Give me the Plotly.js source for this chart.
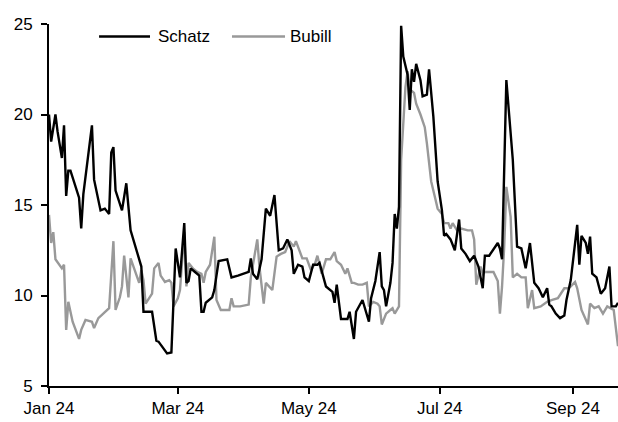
<!DOCTYPE html>
<html>
<head>
<meta charset="utf-8">
<script src="https://cdn.plot.ly/plotly-3.0.1.min.js"></script>
<style>html,body{margin:0;padding:0;background:#fff;}#chart{width:618px;height:422px;}</style>
</head>
<body>
<div id="chart"></div>
<script>
const seriesNames = ['Schatz', 'Bubill'];
const tickDates = ['2024-01-01', '2024-03-01', '2024-05-01', '2024-07-01', '2024-09-01'];
const tickLabels = ['Jan 24', 'Mar 24', 'May 24', 'Jul 24', 'Sep 24'];

const schatzDates = ['01-01','01-02','01-04','01-05','01-07','01-08','01-09','01-10','01-11','01-15','01-16','01-17','01-21','01-22','01-25','01-27','01-29','01-30','01-31',
'02-01','02-04','02-06','02-08','02-13','02-14','02-18','02-20','02-21','02-25','02-27','02-29',
'03-02','03-04','03-05','03-06','03-07','03-09','03-11','03-12','03-13','03-14','03-17','03-18','03-20','03-24','03-26','03-29',
'04-03','04-04','04-05','04-07','04-09','04-11','04-13','04-15','04-17','04-19','04-21','04-23','04-24','04-26','04-28','04-29',
'05-01','05-03','05-05','05-06','05-08','05-09','05-12','05-13','05-14','05-16','05-19','05-20','05-22','05-23','05-26','05-29','05-30',
'06-01','06-03','06-04','06-05','06-06','06-08','06-09','06-10','06-11','06-12','06-13','06-14','06-16','06-17','06-18','06-19','06-20','06-22','06-23','06-25','06-26','06-28','06-30',
'07-02','07-03','07-04','07-06','07-08','07-10','07-11','07-13','07-15','07-17','07-19','07-21','07-22','07-24','07-28','07-29','07-30',
'08-01','08-04','08-06','08-08','08-10','08-12','08-14','08-16','08-18','08-20','08-21','08-22','08-24','08-26','08-28','08-29','08-31',
'09-03','09-04','09-05','09-07','09-08','09-09','09-10','09-12','09-14','09-16','09-18','09-19','09-21','09-22'];
const schatzValues = [20.0,18.5,20.0,19.05,17.6,19.4,15.5,16.9,16.9,15.4,13.7,15.6,19.4,16.4,14.7,14.8,14.5,17.9,18.2,
15.8,14.7,16.2,13.6,11.6,9.1,9.1,7.5,7.45,6.8,6.85,12.6,
11.0,14.0,10.7,10.8,11.5,11.3,11.1,9.1,9.1,9.6,9.9,10.3,11.9,12.0,11.0,11.1,
11.3,12.05,11.2,10.9,12.0,14.8,14.4,15.55,12.5,12.6,13.1,12.5,11.2,11.7,11.6,11.0,
10.8,11.7,11.7,11.8,11.0,10.5,10.2,9.6,10.6,8.7,8.7,9.1,7.6,9.1,9.75,8.55,9.85,
10.8,12.4,10.5,10.3,9.4,10.7,11.8,14.5,13.7,14.9,24.9,23.2,22.2,20.25,22.5,21.8,22.8,21.9,21.0,21.1,22.5,19.9,16.3,
14.7,13.3,13.4,13.1,12.5,14.2,12.6,12.3,11.9,12.2,11.6,10.4,12.2,12.2,12.9,12.6,12.0,
21.9,17.5,12.7,12.6,11.5,12.9,10.7,10.4,9.9,10.4,9.5,9.4,9.0,8.75,8.9,9.75,10.85,
13.9,11.7,13.3,12.9,12.3,13.25,11.2,11.0,10.1,10.4,11.6,9.4,9.4,9.6];

const bubillDates = ['01-01','01-02','01-03','01-04','01-07','01-08','01-09','01-10','01-12','01-15','01-16','01-18','01-21','01-22','01-24','01-28','01-29','01-31',
'02-01','02-03','02-04','02-05','02-07','02-08','02-10','02-12','02-13','02-14','02-15','02-18','02-19','02-21','02-22','02-24','02-26','02-27','02-28',
'03-01','03-02','03-04','03-05','03-06','03-08','03-10','03-12','03-13','03-14','03-16','03-18','03-19','03-21','03-25','03-26','03-27','03-30',
'04-03','04-04','04-07','04-08','04-10','04-11','04-14','04-16','04-18','04-20','04-22','04-24','04-25','04-28','04-30',
'05-02','05-04','05-05','05-07','05-09','05-11','05-13','05-14','05-16','05-18','05-19','05-21','05-22','05-24','05-26','05-28','05-29','05-31',
'06-02','06-03','06-04','06-06','06-08','06-09','06-10','06-12','06-13','06-15','06-16','06-17','06-19','06-20','06-22','06-24','06-25','06-27','06-29','06-30',
'07-02','07-03','07-05','07-06','07-07','07-09','07-11','07-14','07-16','07-17','07-18','07-20','07-21','07-22','07-26','07-28','07-29','07-30','07-31',
'08-01','08-03','08-04','08-06','08-08','08-10','08-11','08-13','08-14','08-17','08-20','08-22','08-25','08-28','08-30','08-31',
'09-02','09-03','09-05','09-08','09-09','09-11','09-13','09-15','09-17','09-20','09-21','09-22'];
const bubillValues = [14.45,12.9,13.5,12.0,11.5,11.7,8.1,9.65,8.55,7.6,8.1,8.65,8.55,8.2,8.75,9.2,9.3,13.0,
9.2,9.9,10.5,12.2,9.9,12.05,11.4,10.7,11.4,10.85,9.55,10.1,11.5,11.8,11.1,10.75,10.85,10.7,9.4,
9.85,10.3,13.5,10.5,11.8,11.5,11.3,11.2,10.7,11.3,11.7,13.25,9.75,9.2,9.2,9.85,9.4,9.4,
9.5,11.0,13.1,11.6,9.55,10.7,10.3,12.15,12.3,12.4,13.0,12.7,13.0,12.05,12.05,
11.4,11.8,12.2,11.2,12.0,12.0,12.4,11.9,11.7,11.2,11.5,10.7,10.7,10.6,10.6,10.7,9.4,9.65,
9.55,9.4,8.4,9.0,9.2,9.3,9.0,9.4,17.5,21.5,22.4,21.4,21.2,20.6,20.0,19.3,18.4,16.3,15.3,14.8,
14.5,14.0,14.0,13.7,14.0,13.6,13.7,13.6,13.6,13.1,10.6,11.6,11.2,11.3,11.3,10.8,9.0,10.5,12.7,
16.0,14.35,11.0,11.2,11.0,11.0,9.3,10.3,9.3,9.4,9.65,9.75,9.85,10.4,10.4,10.5,
10.75,10.4,9.2,8.4,9.55,9.3,9.4,9.0,9.4,9.2,8.1,7.2];

const year = '2024-';
const colors = {Schatz: '#000000', Bubill: '#999999'};
const font = '"Liberation Sans", Arial, sans-serif';

const traces = [
  {x: bubillDates.map(d => year + d), y: bubillValues, name: seriesNames[1], type: 'scatter', mode: 'lines',
   line: {color: colors.Bubill, width: 2.4}},
  {x: schatzDates.map(d => year + d), y: schatzValues, name: seriesNames[0], type: 'scatter', mode: 'lines',
   line: {color: colors.Schatz, width: 2.4}}
];

const layout = {
  width: 618, height: 422,
  margin: {l: 49, r: 0, t: 24, b: 36},
  paper_bgcolor: '#fff', plot_bgcolor: '#fff',
  showlegend: false,
  font: {family: font, size: 17, color: '#000'},
  xaxis: {
    type: 'date', range: ['2024-01-01', '2024-09-22'],
    tickvals: tickDates, ticktext: tickLabels,
    showgrid: false, zeroline: false, showline: true, linecolor: '#000', linewidth: 2,
    ticks: 'outside', ticklen: 6, tickwidth: 2, tickcolor: '#000',
    tickfont: {family: font, size: 17, color: '#000'}
  },
  yaxis: {
    range: [5, 25], tickvals: [5, 10, 15, 20, 25],
    showgrid: false, zeroline: false, showline: true, linecolor: '#000', linewidth: 2,
    ticks: 'outside', ticklen: 6, tickwidth: 2, tickcolor: '#000', ticklabelstandoff: 5,
    tickfont: {family: font, size: 17, color: '#000'}
  },
  shapes: [
    {type: 'line', xref: 'paper', yref: 'paper', x0: 0.088, x1: 0.1775, y0: 0.9655, y1: 0.9655, line: {color: colors.Schatz, width: 2.4}},
    {type: 'line', xref: 'paper', yref: 'paper', x0: 0.3216, x1: 0.4148, y0: 0.9655, y1: 0.9655, line: {color: colors.Bubill, width: 2.4}}
  ],
  annotations: [
    {xref: 'paper', yref: 'paper', x: 0.1880, y: 0.9655, xanchor: 'left', yanchor: 'middle', text: seriesNames[0], showarrow: false, font: {family: font, size: 17, color: '#000'}},
    {xref: 'paper', yref: 'paper', x: 0.4200, y: 0.9655, xanchor: 'left', yanchor: 'middle', text: seriesNames[1], showarrow: false, font: {family: font, size: 17, color: '#000'}}
  ]
};

Plotly.newPlot('chart', traces, layout, {staticPlot: true, displayModeBar: false});
</script>
</body>
</html>
